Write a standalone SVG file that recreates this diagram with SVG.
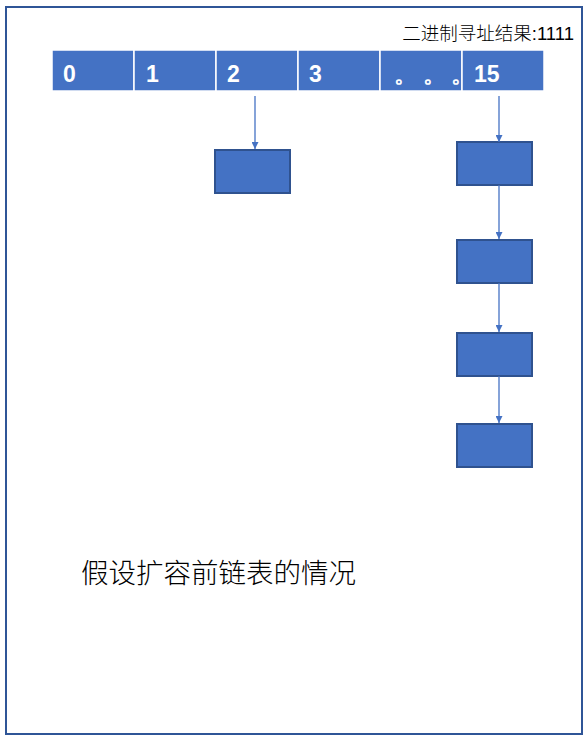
<svg xmlns="http://www.w3.org/2000/svg" width="588" height="736" viewBox="0 0 588 736">
<style>
.cell{fill:#4472C4;stroke:#FFFFFF;stroke-width:1.5}
.lbl{font-family:"Liberation Sans",Arial,sans-serif;font-weight:bold;font-size:23px;fill:#FFFFFF}
.node{fill:#4472C4;stroke:#2F528F;stroke-width:2}
.conn{stroke:#4472C4;stroke-width:1.3;fill:none;marker-end:url(#arr)}
.cjk{font-family:"Liberation Sans","Noto Sans CJK SC",sans-serif;fill:#000000}
</style>
<defs>
<marker id="arr" viewBox="0 0 10 10" refX="10" refY="5" markerWidth="7" markerHeight="7" markerUnits="userSpaceOnUse" orient="auto">
<path d="M0,0 L10,5 L0,10 z" fill="#4472C4"/>
</marker>
</defs>
<rect id="frame" x="6" y="7" width="576" height="727" fill="#FFFFFF" stroke="#2F5597" stroke-width="2"/>
<text id="title" class="cjk" x="574" y="40" font-size="18.5" font-weight="300" text-anchor="end">二进制寻址结果:1111</text>
<g id="array">
<rect class="cell" x="52" y="50" width="82" height="41"/>
<rect class="cell" x="134" y="50" width="82" height="41"/>
<rect class="cell" x="216" y="50" width="82" height="41"/>
<rect class="cell" x="298" y="50" width="82" height="41"/>
<rect class="cell" x="380" y="50" width="82" height="41"/>
<rect class="cell" x="462" y="50" width="82" height="41"/>
<text class="lbl" x="63" y="82">0</text>
<text class="lbl" x="146" y="82">1</text>
<text class="lbl" x="227" y="82">2</text>
<text class="lbl" x="309" y="82">3</text>
<text class="lbl" x="394 423 451" y="82" font-family="'Noto Sans CJK SC',sans-serif" font-weight="normal" font-size="20">。。。</text>
<text class="lbl" x="474" y="82">15</text>
</g>
<g id="node-2"><rect class="node" x="215" y="150" width="75" height="43"/></g>
<g id="node-15a"><rect class="node" x="457" y="142" width="75" height="43"/></g>
<g id="node-15b"><rect class="node" x="457" y="240" width="75" height="43"/></g>
<g id="node-15c"><rect class="node" x="457" y="333" width="75" height="43"/></g>
<g id="node-15d"><rect class="node" x="457" y="424" width="75" height="43"/></g>
<g id="connectors">
<line class="conn" x1="255" y1="96" x2="255" y2="149"/>
<line class="conn" x1="499" y1="96" x2="499" y2="142"/>
<line class="conn" x1="499" y1="185" x2="499" y2="239"/>
<line class="conn" x1="499" y1="283" x2="499" y2="332"/>
<line class="conn" x1="499" y1="376" x2="499" y2="423"/>
</g>
<text id="caption" class="cjk" x="81" y="583" font-size="27.5" font-weight="300">假设扩容前链表的情况</text>
</svg>
